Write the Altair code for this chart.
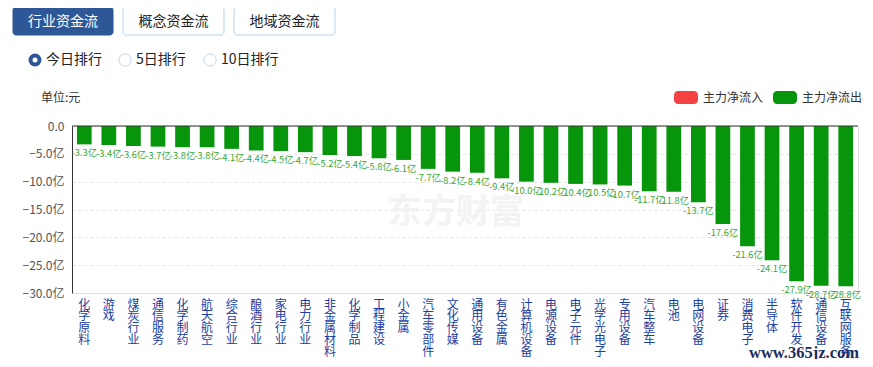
import altair as alt
import pandas as pd

categories = ["化学原料", "游戏", "煤炭行业", "通信服务", "化学制药", "航天航空", "综合行业", "酿酒行业",
              "家电行业", "电力行业", "非金属材料", "化学制品", "工程建设", "小金属", "汽车零部件", "文化传媒",
              "通用设备", "有色金属", "计算机设备", "电源设备", "电子元件", "光学光电子", "专用设备", "汽车整车",
              "电池", "电网设备", "证券", "消费电子", "半导体", "软件开发", "通信设备", "互联网服务"]
values = [-3.3, -3.4, -3.6, -3.7, -3.8, -3.8, -4.1, -4.4, -4.5, -4.7, -5.2, -5.4, -5.8, -6.1, -7.7, -8.2,
          -8.4, -9.4, -10.0, -10.2, -10.4, -10.5, -10.7, -11.7, -11.8, -13.7, -17.6, -21.6, -24.1, -27.9,
          -28.7, -28.8]
y_ticks = [0, -5, -10, -15, -20, -25, -30]
tabs = ["行业资金流", "概念资金流", "地域资金流"]
radios = ["今日排行", "5日排行", "10日排行"]
legend_labels = ["主力净流入", "主力净流出"]
legend_colors = ["#f44242", "#07950b"]

df = pd.DataFrame({
    "industry": categories,
    "flow": values,
    "label": [f"{v:.1f}亿" for v in values],
})

FONT = "Noto Sans CJK SC"
W, H = 786, 167
OX, OY = 72, 126  # page position of plot origin


def px(x):
    return x - OX


def py(y):
    return y - OY


x_enc = alt.X("industry:N", sort=None,
              scale=alt.Scale(paddingInner=0.4, paddingOuter=0.2),
              axis=alt.Axis(title=None, orient="bottom", labelAngle=0, labelExpr="split(datum.label, '')",
                            labelLineHeight=11.8, labelFontSize=12, labelColor="#1c3ea0", labelBaseline="top",
                            labelPadding=6, labelOverlap=False, labelBound=False, domain=False, ticks=False,
                            labelFont=FONT))
y_enc = alt.Y("flow:Q", scale=alt.Scale(domain=[-30, 0], nice=False),
              axis=alt.Axis(title=None, values=y_ticks,
                            labelExpr="datum.value == 0 ? '0.0' : format(datum.value, '.1f') + '亿'",
                            labelColor="#555555", labelFontSize=12, labelPadding=8, ticks=False,
                            labelOverlap=False, labelBound=False, labelFlush=False,
                            domainColor="#333333", grid=True, gridDash=[3, 3], gridColor="#e3e3e3",
                            labelFont=FONT))

base = alt.Chart(df)
bars = base.mark_bar(color="#07950b").encode(x=x_enc, y=y_enc)
vlabels = base.mark_text(baseline="top", dy=5, fontSize=9.3, color="#34a834", font=FONT).encode(
    x=x_enc, y=y_enc, text="label:N")


def one():
    return alt.Chart(alt.Data(values=[{}]))


zero = one().mark_rule(color="#333333", strokeWidth=1).encode(
    x=alt.value(0), x2=alt.value(W), y=alt.value(0))

watermark = one().mark_text(fontSize=34, fontWeight="bold", color="#f3f3f3", font=FONT,
                            align="center", baseline="middle").encode(
    x=alt.value(px(456)), y=alt.value(py(213)), text=alt.value("东方财富"))

layers = [watermark, bars, zero, vlabels]

# tabs
tab_x = [(13, 113), (123, 224), (234, 335)]
for i, (t, (a, b)) in enumerate(zip(tabs, tab_x)):
    active = i == 0
    layers.append(one().mark_rect(cornerRadius=3, fill="#2e5797" if active else "#ffffff",
                                  stroke="#2e5797" if active else "#b9d0ea", strokeWidth=1).encode(
        x=alt.value(px(a)), x2=alt.value(px(b)), y=alt.value(py(7)), y2=alt.value(py(35))))
    layers.append(one().mark_text(fontSize=14, color="#ffffff" if active else "#222222", font=FONT,
                                  align="center", baseline="middle").encode(
        x=alt.value(px((a + b) / 2)), y=alt.value(py(21.5)), text=alt.value(t)))

# radios
radio_x = [35, 125, 210]
for i, (t, rx) in enumerate(zip(radios, radio_x)):
    if i == 0:
        layers.append(one().mark_point(shape="circle", filled=True, size=169, color="#2e5797", opacity=1).encode(
            x=alt.value(px(rx)), y=alt.value(py(60))))
        layers.append(one().mark_point(shape="circle", filled=True, size=25, color="#ffffff", opacity=1).encode(
            x=alt.value(px(rx)), y=alt.value(py(60))))
    else:
        layers.append(one().mark_point(shape="circle", filled=False, size=150, color="#c5d6ea",
                                       strokeWidth=1, opacity=1).encode(
            x=alt.value(px(rx)), y=alt.value(py(60))))
    layers.append(one().mark_text(fontSize=14, color="#222222", font=FONT, align="left", baseline="middle").encode(
        x=alt.value(px(rx + 11)), y=alt.value(py(60)), text=alt.value(t)))

# unit
layers.append(one().mark_text(fontSize=12, color="#333333", font=FONT, align="left", baseline="middle").encode(
    x=alt.value(px(41)), y=alt.value(py(98)), text=alt.value("单位:元")))

# legend
leg_x = [674, 773]
for t, c, lx in zip(legend_labels, legend_colors, leg_x):
    layers.append(one().mark_rect(cornerRadius=4, color=c).encode(
        x=alt.value(px(lx)), x2=alt.value(px(lx + 24)), y=alt.value(py(91)), y2=alt.value(py(104))))
    layers.append(one().mark_text(fontSize=12, color="#333333", font=FONT, align="left", baseline="middle").encode(
        x=alt.value(px(lx + 29)), y=alt.value(py(97.5)), text=alt.value(t)))

# site watermark
layers.append(one().mark_text(fontSize=16.5, fontWeight="bold", color="#1b2d5e", font="Liberation Serif",
                              align="right", baseline="alphabetic").encode(
    x=alt.value(px(859)), y=alt.value(py(358)), text=alt.value("www.365jz.com")))

chart = alt.layer(*layers).properties(
    width=W, height=H,
    autosize=alt.AutoSizeParams(type="none"),
    padding={"left": 64, "top": 118, "right": 7, "bottom": 66},
).configure_view(stroke=None).configure(font=FONT)

chart.save("out.html", embed_options={"renderer": "svg", "actions": False})
